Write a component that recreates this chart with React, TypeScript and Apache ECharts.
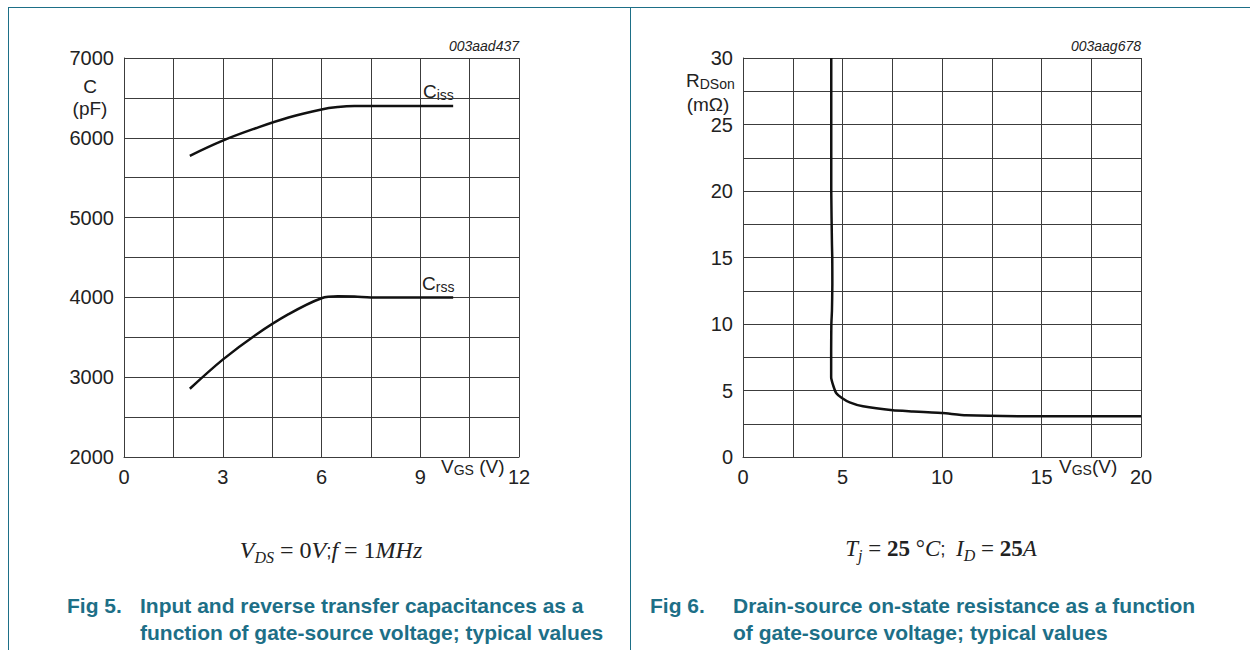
import React, { useEffect, useRef } from 'react';
import * as echarts from 'echarts';

// Fig 5: capacitances vs VGS
const vgsCiss = [2, 3, 4, 5, 6, 6.5, 7, 8, 10];
const ciss = [5775, 5965, 6120, 6255, 6355, 6385, 6398, 6400, 6400];
const vgsCrss = [2, 3, 4, 5, 6, 6.5, 7, 7.5, 8, 10];
const crss = [2855, 3220, 3530, 3790, 3990, 4014, 4012, 4000, 4000, 4000];

// Fig 6: RDSon vs VGS
const vgsR = [4.435, 4.435, 4.47, 4.485, 4.49, 4.47, 4.44, 4.43, 4.43, 4.43, 4.55, 4.69, 4.97, 5.36, 6.03, 7.53, 8.54, 10.04, 11.2, 15, 20];
const rdson = [30, 20, 16, 15, 13, 11, 10, 8, 7, 6, 5.3, 4.8, 4.44, 4.11, 3.81, 3.51, 3.43, 3.31, 3.13, 3.06, 3.06];

const TEAL = '#1d6f87';
const GRID = '#3c3c3c';
const SANS = 'Liberation Sans, Arial, sans-serif';
const SERIF = 'Liberation Serif, Times New Roman, serif';

function axisBase(min: number, max: number, interval: number) {
  return {
    type: 'value' as const,
    min,
    max,
    interval,
    axisLine: { show: true, lineStyle: { color: GRID, width: 1 } },
    axisTick: { show: false },
    axisLabel: { fontSize: 20, color: '#222', fontFamily: SANS, margin: 10, formatter: (v: number) => String(v) },
    splitLine: { show: true, lineStyle: { color: GRID, width: 1 } },
    minorTick: { show: false, splitNumber: 2 },
    minorSplitLine: { show: true, lineStyle: { color: GRID, width: 1 } },
  };
}

function txt(x: number, y: number, text: string, style: any = {}) {
  return {
    type: 'text',
    x,
    y,
    silent: true,
    style: {
      text,
      fontFamily: SANS,
      fontSize: 19,
      fill: '#222',
      verticalAlign: 'middle',
      align: 'left',
      ...style,
    },
  };
}

export default function App() {
  const ref = useRef<HTMLDivElement>(null);
  useEffect(() => {
    document.body.style.margin = '0';
    const chart = echarts.init(ref.current!, null, { renderer: 'svg' });
    const subRich = {
      m: { fontSize: 19, fontFamily: SANS, fill: '#222', lineHeight: 24 },
      s: { fontSize: 14, fontFamily: SANS, fill: '#222', lineHeight: 24, padding: [7, 0, 0, 0] },
    };
    const fRich = {
      i: { fontSize: 24, fontFamily: SERIF, fontStyle: 'italic', fill: '#222', lineHeight: 30 },
      r: { fontSize: 24, fontFamily: SERIF, fill: '#222', lineHeight: 30 },
      b: { fontSize: 24, fontFamily: SERIF, fontWeight: 'bold', fill: '#222', lineHeight: 30 },
      s: { fontSize: 16, fontFamily: SERIF, fontStyle: 'italic', fill: '#222', lineHeight: 30, padding: [14, 0, 0, 0] },
    };
    const fRich2 = {
      i: { ...fRich.i, fontSize: 23 },
      r: { ...fRich.r, fontSize: 23 },
      b: { ...fRich.b, fontSize: 23 },
      s: fRich.s,
    };
    const capStyle = { fontSize: 21, fontWeight: 'bold', fill: TEAL };
    chart.setOption({
      animation: false,
      grid: [
        { left: 124, top: 58, width: 395, height: 399 },
        { left: 743, top: 58, width: 398, height: 399 },
      ],
      xAxis: [
        { ...axisBase(0, 12, 3), gridIndex: 0 },
        { ...axisBase(0, 20, 5), gridIndex: 1 },
      ],
      yAxis: [
        { ...axisBase(2000, 7000, 1000), gridIndex: 0 },
        { ...axisBase(0, 30, 5), gridIndex: 1 },
      ],
      series: [
        {
          type: 'line', xAxisIndex: 0, yAxisIndex: 0, showSymbol: false, smooth: 0.4,
          data: vgsCiss.map((v, i) => [v, ciss[i]]),
          lineStyle: { color: '#111', width: 2.5 },
        },
        {
          type: 'line', xAxisIndex: 0, yAxisIndex: 0, showSymbol: false, smooth: 0.35,
          data: vgsCrss.map((v, i) => [v, crss[i]]),
          lineStyle: { color: '#111', width: 2.5 },
        },
        {
          type: 'line', xAxisIndex: 1, yAxisIndex: 1, showSymbol: false, smooth: 0.15,
          data: vgsR.map((v, i) => [v, rdson[i]]),
          lineStyle: { color: '#111', width: 2.5 },
        },
      ],
      graphic: [
        // frame
        { type: 'line', silent: true, shape: { x1: 8, y1: 7.5, x2: 1250, y2: 7.5 }, style: { stroke: TEAL, lineWidth: 1 } },
        { type: 'line', silent: true, shape: { x1: 8.5, y1: 7, x2: 8.5, y2: 650 }, style: { stroke: TEAL, lineWidth: 1 } },
        { type: 'line', silent: true, shape: { x1: 630.5, y1: 7, x2: 630.5, y2: 650 }, style: { stroke: TEAL, lineWidth: 1 } },
        // left chart texts
        txt(519, 46, '003aad437', { align: 'right', fontStyle: 'italic', fontSize: 14 }),
        txt(90, 86, 'C', { align: 'center' }),
        txt(90, 108, '(pF)', { align: 'center' }),
        txt(441, 466, '{m|V}{s|GS}{m| (V)}', { rich: subRich }),
        txt(422, 91, '{m|C}{s|iss}', { rich: subRich, backgroundColor: '#fff', padding: [0, 2, 0, 1] }),
        txt(422, 283, '{m|C}{s|rss}', { rich: subRich }),
        // right chart texts
        txt(686, 80, '{m|R}{s|DSon}', { rich: subRich }),
        txt(708, 104, '(mΩ)', { align: 'center' }),
        txt(1141, 46, '003aag678', { align: 'right', fontStyle: 'italic', fontSize: 14 }),
        txt(1059, 466, '{m|V}{s|GS}{m|(V)}', { rich: subRich }),
        // conditions
        txt(331, 550, '{i|V}{s|DS}{r| = 0}{i|V};{i|f}{r| = 1}{i|MHz}', { align: 'center', rich: fRich }),
        txt(941, 548, '{i|T}{s|j}{r| = }{b|25}{r| °}{i|C};  {i|I}{s|D}{r| = }{b|25}{i|A}', { align: 'center', rich: fRich2 }),
        // captions
        txt(67, 605, 'Fig 5.', capStyle),
        txt(140, 605, 'Input and reverse transfer capacitances as a', capStyle),
        txt(140, 632, 'function of gate-source voltage; typical values', capStyle),
        txt(650, 605, 'Fig 6.', capStyle),
        txt(733, 605, 'Drain-source on-state resistance as a function', capStyle),
        txt(733, 632, 'of gate-source voltage; typical values', capStyle),
      ],
    });
    return () => chart.dispose();
  }, []);
  return <div ref={ref} style={{ width: 1250, height: 650 }} />;
}
